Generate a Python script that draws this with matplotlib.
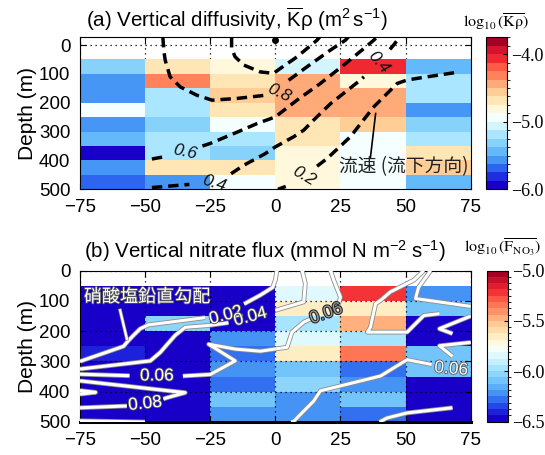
import numpy as np
import matplotlib
matplotlib.use('Agg')
import matplotlib.pyplot as plt
from matplotlib.colors import ListedColormap, LinearSegmentedColormap, BoundaryNorm
from matplotlib.ticker import FuncFormatter
import matplotlib.patheffects as pe

plt.rcParams['font.family'] = ['Liberation Sans', 'Noto Sans CJK JP']
plt.rcParams['mathtext.fontset'] = 'custom'
plt.rcParams['mathtext.rm'] = 'Liberation Sans'
plt.rcParams['mathtext.it'] = 'Liberation Sans:italic'
plt.rcParams['axes.unicode_minus'] = True

# --- データ -------------------------------------------------------------
x_edges = [-75, -50, -25, 0, 25, 50, 75]
depth_edges = [50, 100, 150, 200, 250, 300, 350, 400, 450, 500]

# log10(Kρ) : 各列 (x ビン) の深度ごとの値 (50-100, ..., 450-500 m)
logk_c1 = [-5.31, -5.56, -5.56, -4.94, -5.56, -5.44, -5.94, -5.56, -5.69]
logk_c2 = [-4.69, -4.31, -5.19, -5.19, -5.31, -5.19, -5.19, -4.69, -5.56]
logk_c3 = [-4.81, -4.69, -4.56, -4.69, -4.94, -5.19, -5.31, -4.69, -4.94]
logk_c4 = [-5.06, -4.44, -4.44, -4.44, -4.69, -4.69, -4.81, -4.81, -4.81]
logk_c5 = [-4.06, -4.81, -4.44, -4.44, -4.56, -4.94, -4.94, -4.94, -4.94]
logk_c6 = [-5.44, -5.19, -5.19, -5.56, -5.31, -5.19, -4.69, -4.56, -5.44]

# log10(F_NO3)
logf_c1 = [-6.46, -6.46, -6.46, -6.46, -6.40, -6.46, -6.46, -6.46, -6.46]
logf_c2 = [-6.46, -6.46, -6.06, -6.46, -6.46, -6.46, -6.46, -6.46, -6.46]
logf_c3 = [-6.46, -6.46, -6.46, -6.25, -6.30, -6.20, -6.30, -6.08, -6.25]
logf_c4 = [-5.84, -5.63, -5.96, -5.84, -5.63, -6.08, -6.04, -6.21, -6.25]
logf_c5 = [-5.21, -5.63, -5.46, -5.96, -5.35, -6.30, -6.21, -6.12, -6.30]
logf_c6 = [-6.25, -6.12, -6.46, -6.46, -6.08, -6.08, -6.46, -6.46, -6.46]

# 流速コンターライン (x, depth) ― ラベル位置で分割
vel_08 = [[(-43.2, -28), (-42.8, 20), (-42.3, 52), (-40.4, 110), (-36.5, 145), (-30.1, 174),
           (-24.3, 191), (-14.7, 185), (-5.8, 176), (-2.5, 172)],
          [(5.1, 122), (12.2, 75), (21.2, 17), (26.9, -17), (28.0, -28)]]
vel_10 = [[(-16.8, -28), (-16.8, 10), (-15.5, 40), (-12.2, 69), (-5.8, 93), (-0.7, 98),
           (1.9, 81), (8.3, 41), (16.0, -17), (17.0, -28)]]
vel_06 = [[(-47.4, 395), (-42.0, 386)],
          [(-28.0, 350), (-25.0, 341), (-14.7, 302), (-7.0, 272), (0.0, 249), (8.3, 191),
           (17.3, 133), (26.3, 69), (33.3, 17), (37.8, -17), (39.0, -28)]]
vel_04 = [[(-47.4, 494), (-33.0, 483)],
          [(-17.0, 446), (-12.2, 417), (-4.0, 377), (0.0, 353), (7.0, 318), (10.9, 295),
           (14.7, 260), (21.2, 203), (32.7, 121), (34.0, 110)],
          [(44.0, 15), (45.4, 0), (47.3, -23), (47.6, -28)]]
vel_02 = [[(1.0, 500), (4.0, 490)],
          [(16.0, 420), (19.9, 393), (28.8, 318), (37.8, 214), (46.8, 133), (50.6, 121),
           (58.3, 110), (68.6, 96)]]
vel_labels = [(-34.6, 372, '0.6', -12), (1.3, 166, '0.8', -25), (-23.5, 478, '0.4', -18),
              (39.5, 60, '0.4', -50), (10.9, 455, '0.2', -30)]
vel_pointer = [(36.5, 390), (38.5, 237)]
surface_dot = [(0.0, -17)]

# 硝酸塩鉛直勾配コンターライン
no3_02 = [[(-75, 300), (-74.4, 298), (-58.3, 250), (-56.4, 231), (-54.5, 214), (-51.9, 192),
           (-48.7, 179), (-40.4, 170), (-27.0, 155)],
          [(-12.0, 110), (-5.8, 81), (-1.0, 55), (0.0, 31), (0.6, 0)]]
no3_04 = [[(-75, 325), (-48.0, 298), (-44.2, 270), (-38.5, 214), (-34.6, 187), (-25.6, 181),
           (-18.0, 172)],
          [(0.0, 131), (10.9, 103), (11.5, 42), (10.3, 0)]]
no3_06 = [[(-75, 342), (-56.0, 347)],
          [(-35.5, 348), (-25.0, 343), (-15.4, 298), (-25.6, 243), (-15.4, 259), (-5.8, 266),
           (4.5, 253), (6.4, 203), (10.9, 170), (14.0, 158)],
          [(24.0, 118), (25.0, 87), (22.4, 31), (21.2, 0)],
          [(57.0, 0), (53.2, 31), (44.2, 70), (40.4, 98), (38.5, 109), (36.5, 187), (35.3, 203),
           (50.6, 203), (57.0, 148), (63.0, 142)],
          [(59.6, 0), (55.0, 55), (53.8, 92), (75, 118)],
          [(75, 150), (63.0, 192), (68.0, 208)],
          [(75, 237), (63.0, 248), (68.0, 283)],
          [(6.0, 500), (7.0, 498), (14.7, 431), (17.3, 397), (40.4, 348), (50.6, 294), (60.0, 310)]]
no3_08 = [[(-75, 364), (-34.6, 403), (-41.7, 420), (-43.0, 424)],
          [(-57.0, 447), (-75, 453)],
          [(-75, 396), (-69.0, 402), (-75, 408)],
          [(40.0, 500), (42.8, 487), (50.6, 470), (68.0, 453)],
          [(-75, 496), (-50.0, 500)]]
no3_labels = [(-19.0, 148, '0.02', 15), (-9.6, 153, '0.04', 15), (-45.5, 348, '0.06', 0),
              (-50.0, 440, '0.08', 6), (67.5, 325, '0.06', -5)]
no3_gray_label = (19.5, 142, '0.06', 20)
no3_pointer = [(-59.6, 131), (-57.0, 225)]

# --- カラーマップ -------------------------------------------------------
cm_colors = ['#1900c8', '#1e2de1', '#2d64f0', '#4696f5', '#64b9fa', '#87d2fa', '#aae6ff',
             '#d2f5ff', '#f5ffff', '#fff8dc', '#ffe6b4', '#ffcd96', '#ffaa78', '#ff825a',
             '#ff5a46', '#f02832', '#d2142d', '#a50023']
cmap_k = ListedColormap(cm_colors)
norm_k = BoundaryNorm(np.linspace(-6.0, -3.75, 19), 18)
cmap_f = LinearSegmentedColormap.from_list('bwr2', cm_colors, N=24)
norm_f = BoundaryNorm(np.linspace(-6.5, -5.0, 25), 24)

kappa = np.array([logk_c1, logk_c2, logk_c3, logk_c4, logk_c5, logk_c6]).T
flux = np.array([logf_c1, logf_c2, logf_c3, logf_c4, logf_c5, logf_c6]).T

W, H = 545, 455
fig = plt.figure(figsize=(W / 100, H / 100), dpi=100)


def frac(px_l, py_t, px_r, py_b):
    return [px_l / W, 1 - py_b / H, (px_r - px_l) / W, (py_b - py_t) / H]


ax1 = fig.add_axes(frac(80, 37, 470.7, 189.3))
ax2 = fig.add_axes(frac(80, 270.7, 470.7, 422))
cax1 = fig.add_axes(frac(486, 37.3, 506.7, 189.3))
cax2 = fig.add_axes(frac(486.5, 270.5, 507.5, 421.5))

minus = FuncFormatter(lambda v, p: f'{v:.1f}'.replace('-', '\u2212'))

# (a) 鉛直拡散係数
pc1 = ax1.pcolormesh(x_edges, depth_edges, kappa, cmap=cmap_k, norm=norm_k, zorder=1)
ax1.set_axisbelow(True)
for seg_list in (vel_08, vel_10, vel_06, vel_04, vel_02):
    for seg in seg_list:
        xs, ys = zip(*seg)
        ax1.plot(xs, ys, color='black', lw=2.5, ls=(0, (3, 1.7)), zorder=3,
                 dash_capstyle='butt')
for x, y, t, r in vel_labels:
    ax1.text(x, y, t, fontsize=12.5, style='italic', rotation=r, ha='center', va='center',
             color='#111111', zorder=4)
px, py = zip(*vel_pointer)
ax1.plot(px, py, color='black', lw=1.2, zorder=4)
dx, dy = zip(*surface_dot)
ax1.plot(dx, dy, 'o', color='black', ms=4, zorder=4, clip_on=False)
ax1.text(24.5, 422, '流速 (流下方向)', fontsize=13.5, family=['Noto Sans CJK JP'],
         ha='left', va='center', color='#222222', zorder=4)
ax1.set_xlim(-75, 75)
ax1.set_ylim(500, -28)
ax1.set_xticks([-75, -50, -25, 0, 25, 50, 75])
ax1.set_yticks([0, 100, 200, 300, 400, 500])
ax1.grid(True, color='black', ls=(0, (1, 3)), lw=0.9)
ax1.tick_params(direction='in', top=True, right=True, length=4, labelsize=13.5, pad=7)
ax1.set_ylabel('Depth (m)', fontsize=15, labelpad=1)
ax1.text(0.015, 1.112, r'(a) Vertical diffusivity, $\overline{\mathrm{K}}\mathrm{\rho}$ (m$^{2}\,$s$^{-1}$)',
         transform=ax1.transAxes, fontsize=14.8, ha='left', va='center')

cb1 = fig.colorbar(pc1, cax=cax1, ticks=[-6, -5, -4], format=minus)
cb1.outline.set_linewidth(0.8)
cb1.ax.tick_params(direction='in', length=3, labelsize=13)
for lab in cb1.ax.get_yticklabels():
    lab.set_family('Liberation Serif')
fig.text(496 / W, 1 - 22 / H, r'$\log_{10}(\overline{\mathrm{K\rho}})$', ha='center', va='center',
         fontsize=11.5, math_fontfamily='stix')

# (b) 硝酸塩鉛直フラックス
pc2 = ax2.pcolormesh(x_edges, depth_edges, flux, cmap=cmap_f, norm=norm_f, zorder=1)
ax2.set_axisbelow(False)
outline = [pe.Stroke(linewidth=3.4, foreground='#8c8c8c'), pe.Normal()]
for seg_list in (no3_02, no3_04, no3_06, no3_08):
    for seg in seg_list:
        xs, ys = zip(*seg)
        ax2.plot(xs, ys, color='white', lw=2.2, zorder=3, solid_capstyle='butt',
                 path_effects=outline)
px, py = zip(*no3_pointer)
ax2.plot(px, py, color='white', lw=1.6, zorder=3,
         path_effects=[pe.Stroke(linewidth=2.6, foreground='#8c8c8c'), pe.Normal()])
txt_fx = [pe.withStroke(linewidth=1.2, foreground='#555555')]
for x, y, t, r in no3_labels:
    ax2.text(x, y, t, fontsize=12.5, rotation=r, ha='center', va='center', color='white',
             zorder=4, path_effects=txt_fx)
gx, gy, gt, gr = no3_gray_label
ax2.text(gx, gy, gt, fontsize=12.5, rotation=gr, ha='center', va='center', color='#9a9a9a',
         zorder=4, path_effects=[pe.withStroke(linewidth=1.5, foreground='#222222')])
ax2.text(-73.5, 87, '硝酸塩鉛直勾配', fontsize=13, family=['Noto Sans CJK JP'], ha='left',
         va='center', color='white', zorder=4, path_effects=txt_fx)
ax2.set_xlim(-75, 75)
ax2.set_ylim(500, 0)
ax2.set_xticks([-75, -50, -25, 0, 25, 50, 75])
ax2.set_yticks([0, 100, 200, 300, 400, 500])
ax2.grid(True, color='black', ls=(0, (1, 3)), lw=0.9, zorder=2.5)
ax2.tick_params(direction='in', top=True, right=True, length=4, labelsize=13.5, pad=7)
ax2.spines['bottom'].set_linewidth(2.2)
ax2.set_ylabel('Depth (m)', fontsize=15, labelpad=1)
ax2.text(0.01, 1.13, r'(b) Vertical nitrate flux (mmol N m$^{-2}\;$s$^{-1}$)',
         transform=ax2.transAxes, fontsize=14.8, ha='left', va='center')

cb2 = fig.colorbar(pc2, cax=cax2, ticks=[-6.5, -6.0, -5.5, -5.0], format=minus)
cb2.outline.set_linewidth(0.8)
cb2.ax.tick_params(direction='in', length=3, labelsize=13)
for lab in cb2.ax.get_yticklabels():
    lab.set_family('Liberation Serif')
fig.text(503 / W, 1 - 247 / H, r'$\log_{10}(\overline{\mathrm{F}_{\mathrm{NO}_3}})$', ha='center',
         va='center', fontsize=11.5, math_fontfamily='stix')

fig.savefig('out.png', dpi=100)
